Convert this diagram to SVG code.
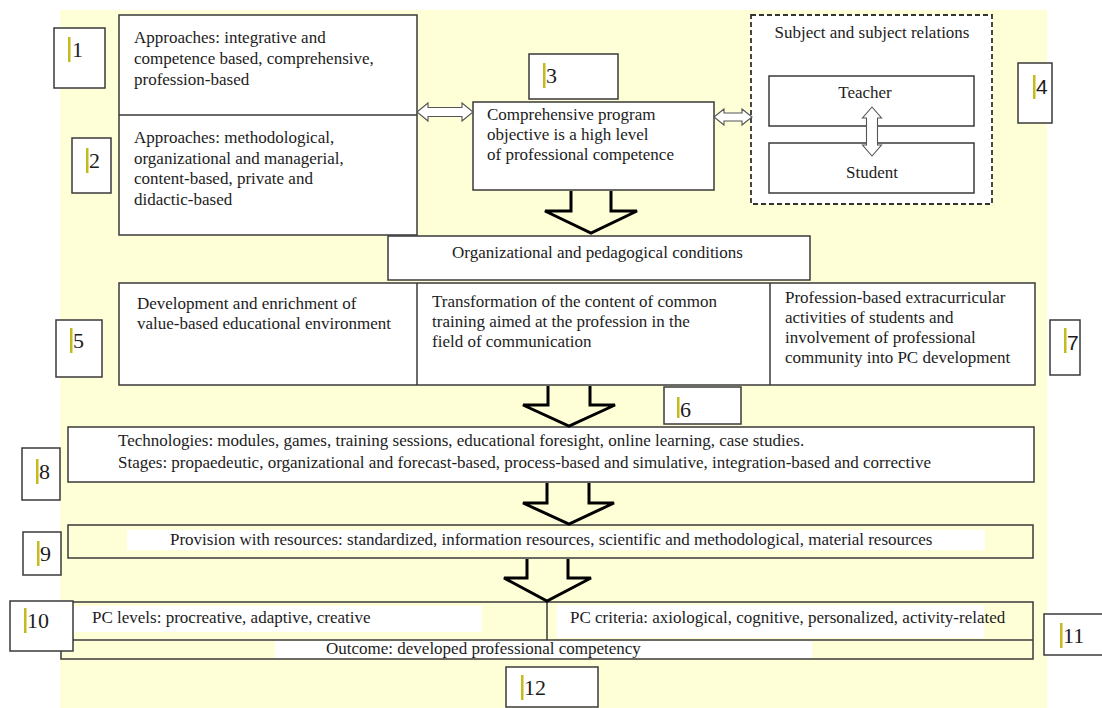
<svg xmlns="http://www.w3.org/2000/svg" width="1102" height="708" viewBox="0 0 1102 708">
<style>
.bg{fill:#FFFFD7}
.box{fill:#fff;stroke:#3a3a3a;stroke-width:1.5}
.open{fill:none;stroke:#3a3a3a;stroke-width:1.5}
.dash{fill:#fff;stroke:#333;stroke-width:1.8;stroke-dasharray:5 3}
.wb{fill:#fff}
.t{font-family:"Liberation Serif","Times New Roman",serif;font-size:17px;fill:#1c1c1c}
.num{font-family:"Liberation Serif","Times New Roman",serif;font-size:22px;fill:#1c1c1c}
.sans{font-family:"Liberation Sans",Arial,sans-serif;font-size:21px}
.bar{fill:#C4BC1C}
.big{fill:none;stroke:#000;stroke-width:3;stroke-linejoin:miter}
.dbl{fill:#fff;stroke:#555;stroke-width:1.1}
.mid{text-anchor:middle}
</style>
<rect class="bg" x="60" y="10" width="987" height="698"/>

<g id="approaches">
<rect class="box" x="119" y="15" width="298" height="220"/>
<line class="open" x1="119" y1="115" x2="417" y2="115"/>
<text class="t" x="134" y="43">Approaches: integrative and</text>
<text class="t" x="134" y="64">competence based, comprehensive,</text>
<text class="t" x="134" y="85">profession-based</text>
<text class="t" x="134" y="143">Approaches: methodological,</text>
<text class="t" x="134" y="164">organizational and managerial,</text>
<text class="t" x="134" y="184">content-based, private and</text>
<text class="t" x="134" y="205">didactic-based</text>
</g>

<g id="objective">
<rect class="box" x="473" y="102" width="241" height="88"/>
<text class="t" x="487" y="120">Comprehensive program</text>
<text class="t" x="487" y="140">objective is a high level</text>
<text class="t" x="487" y="160">of professional competence</text>
</g>

<g id="subjects">
<rect class="dash" x="751" y="15" width="241" height="189"/>
<text class="t mid" x="872" y="38">Subject and subject relations</text>
<g id="teacher">
<rect class="box" x="769" y="76" width="205" height="50"/>
<text class="t mid" x="865" y="98">Teacher</text>
</g>
<g id="student">
<rect class="box" x="769" y="143" width="205" height="50"/>
<text class="t mid" x="872" y="178">Student</text>
</g>
</g>

<g id="conditions">
<rect class="box" x="388" y="236" width="422" height="44"/>
<text class="t" x="452" y="258">Organizational and pedagogical conditions</text>
</g>

<g id="conditions-row">
<rect class="box" x="119" y="283" width="916" height="102"/>
<line class="open" x1="417" y1="283" x2="417" y2="385"/>
<line class="open" x1="770" y1="283" x2="770" y2="385"/>
<text class="t" x="137" y="309">Development and enrichment of</text>
<text class="t" x="137" y="329">value-based educational environment</text>
<text class="t" x="432" y="307">Transformation of the content of common</text>
<text class="t" x="432" y="327">training aimed at the profession in the</text>
<text class="t" x="432" y="347">field of communication</text>
<text class="t" x="785" y="303">Profession-based extracurricular</text>
<text class="t" x="785" y="323">activities of students and</text>
<text class="t" x="785" y="343">involvement of professional</text>
<text class="t" x="785" y="363">community into PC development</text>
</g>

<g id="technologies">
<rect class="box" x="68" y="427" width="966" height="55"/>
<text class="t" x="118" y="446">Technologies: modules, games, training sessions, educational foresight, online learning, case studies.</text>
<text class="t" x="118" y="468">Stages: propaedeutic, organizational and forecast-based, process-based and simulative, integration-based and corrective</text>
</g>

<g id="resources">
<rect class="open" x="68" y="525" width="965" height="33"/>
<rect class="wb" x="127" y="530" width="858" height="20"/>
<text class="t" x="170" y="545">Provision with resources: standardized, information resources, scientific and methodological, material resources</text>
</g>

<g id="outcome">
<rect class="open" x="61" y="602" width="972" height="57"/>
<line class="open" x1="61" y1="640" x2="1033" y2="640"/>
<line class="open" x1="547" y1="602" x2="547" y2="640"/>
<rect class="wb" x="74" y="606" width="408" height="26"/>
<rect class="wb" x="557" y="605" width="427" height="33"/>
<rect class="wb" x="275" y="641" width="537" height="17"/>
<text class="t" x="92" y="623">PC levels: procreative, adaptive, creative</text>
<text class="t" x="570" y="623">PC criteria: axiological, cognitive, personalized, activity-related</text>
<text class="t" x="326" y="654">Outcome: developed professional competency</text>
</g>

<g id="connectors">
<path class="dbl" d="M417,112 L428,103 L428,107.5 L462,107.5 L462,103 L473,112 L462,121 L462,116.5 L428,116.5 L428,121 Z"/>
<path class="dbl" d="M714,117 L724,109 L724,113 L742,113 L742,109 L752,117 L742,125 L742,121 L724,121 L724,125 Z"/>
<path class="dbl" d="M872,107 L881.5,118 L877.5,118 L877.5,145 L881.5,145 L872,156 L862.5,145 L866.5,145 L866.5,118 L862.5,118 Z"/>
<path class="big" d="M571,191 L571,211 L545,211 L591,233 L637,211 L611,211 L611,191"/>
<path class="big" d="M548,386 L548,405 L523,405 L569,426 L615,405 L590,405 L590,386"/>
<path class="big" d="M547,483 L547,503 L523,503 L569,524 L614,503 L589,503 L589,483"/>
<path class="big" d="M527,559 L527,578 L504,578 L547,601 L591,578 L568,578 L568,559"/>
</g>

<g id="label1"><rect class="box" x="54" y="28" width="51" height="60"/><rect class="bar" x="68" y="37" width="2.5" height="25"/><text class="num" x="72" y="57">1</text></g>
<g id="label2"><rect class="box" x="72" y="138" width="39" height="55"/><rect class="bar" x="86" y="148" width="2.5" height="25"/><text class="num" x="89" y="168">2</text></g>
<g id="label3"><rect class="box" x="529" y="54" width="89" height="45"/><rect class="bar" x="543" y="63" width="2.5" height="25"/><text class="num" x="546" y="83">3</text></g>
<g id="label4"><rect class="box" x="1018" y="63" width="34" height="60"/><rect class="bar" x="1033" y="75" width="2.5" height="24"/><text class="num sans" x="1036" y="94">4</text></g>
<g id="label5"><rect class="box" x="56" y="320" width="46" height="57"/><rect class="bar" x="70" y="328" width="2.5" height="25"/><text class="num" x="73" y="348">5</text></g>
<g id="label6"><rect class="box" x="664" y="387" width="77" height="37"/><rect class="bar" x="677" y="397" width="2.5" height="21"/><text class="num" x="680" y="417">6</text></g>
<g id="label7"><rect class="box" x="1050" y="320" width="30" height="55"/><rect class="bar" x="1064" y="328" width="2.5" height="25"/><text class="num sans" x="1067" y="350">7</text></g>
<g id="label8"><rect class="box" x="22" y="448" width="38" height="52"/><rect class="bar" x="36" y="459" width="2.5" height="25"/><text class="num" x="39" y="479">8</text></g>
<g id="label9"><rect class="box" x="23" y="532" width="38" height="43"/><rect class="bar" x="37" y="541" width="2.5" height="25"/><text class="num" x="40" y="561">9</text></g>
<g id="label10"><rect class="box" x="10" y="601" width="63" height="50"/><rect class="bar" x="24" y="608" width="2.5" height="25"/><text class="num" x="27" y="628">10</text></g>
<g id="label11"><rect class="box" x="1044" y="614" width="62" height="41"/><rect class="bar" x="1060" y="623" width="2.5" height="25"/><text class="num" x="1063" y="643">11</text></g>
<g id="label12"><rect class="box" x="506" y="667" width="92" height="40"/><rect class="bar" x="521" y="675" width="2.5" height="25"/><text class="num" x="524" y="695">12</text></g>
</svg>
